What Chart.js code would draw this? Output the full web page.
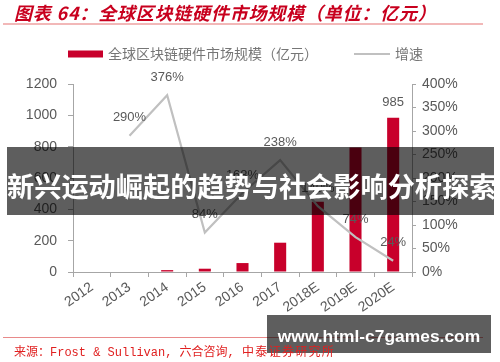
<!DOCTYPE html>
<html><head><meta charset="utf-8">
<script src="https://cdn.jsdelivr.net/npm/chart.js@4.4.1/dist/chart.umd.min.js"></script>
<style>
html,body{margin:0;padding:0;background:#fff;}
#wrap{position:relative;width:500px;height:362px;overflow:hidden;background:#fff;}
#c{position:absolute;left:0;top:0;}
.t{position:absolute;white-space:nowrap;}
#title{left:14px;top:0px;font:italic bold 18px "Noto Sans CJK SC",sans-serif;letter-spacing:0.8px;color:#c8001e;line-height:25px;}
#tline{left:3px;top:23px;width:480px;height:2px;background:#f2b8b8;}
#bline{left:3px;top:337px;width:480px;height:1px;background:#e88a8a;}
#src{left:14px;top:345px;font:12px "Liberation Mono","Noto Sans CJK SC",monospace;color:#e02020;line-height:16px;z-index:3;}
#src .w{letter-spacing:1.3px;}
#banner{left:7px;top:147px;width:487px;height:68px;background:rgba(0,0,0,0.63);color:#fff;font:bold 27.2px "Noto Sans CJK SC",sans-serif;text-align:center;line-height:76px;overflow:hidden;}
#wm{left:267px;top:315px;width:224px;height:38px;background:rgba(0,0,0,0.63);color:#fff;font:bold 17.4px "Liberation Sans",Arial,sans-serif;text-align:center;line-height:42px;z-index:2;}
</style></head><body>
<div id="wrap">
<canvas id="c" width="500" height="362" style="width:500px;height:362px"></canvas>
<div class="t" id="title">图表 64：全球区块链硬件市场规模（单位：亿元）</div>
<div class="t" id="tline"></div>
<div class="t" id="bline"></div>
<div class="t" id="banner">新兴运动崛起的趋势与社会影响分析探索</div>
<div class="t" id="wm">www.html-c7games.com</div>
<div class="t" id="src">来源：Frost &amp; Sullivan, 六合咨询,  <span class="w">中泰证券研究所</span></div>
</div>
<script>
const categories = ['2012','2013','2014','2015','2016','2017','2018E','2019E','2020E'];
const marketSize = [0, 0, 12, 21, 57, 187, 449, 794, 985];
const growthRate = [null, 290, 376, 84, 168, 238, 140, 74, 24];
const leftTicks = [0, 200, 400, 600, 800, 1000, 1200];
const rightTicks = [0, 50, 100, 150, 200, 250, 300, 350, 400];
const barLabelIndex = [8];

const AXIS = '#a6a6a6';
const TXT = '#595959';
const RED = '#c8002b';
const GRAY = '#c0c0c0';

const labelPlugin = {
  id: 'labels',
  afterDatasetsDraw(chart) {
    const ctx = chart.ctx;
    ctx.save();
    ctx.fillStyle = TXT;
    ctx.font = '13px "Liberation Sans", Arial, sans-serif';
    ctx.textAlign = 'center';
    ctx.textBaseline = 'middle';
    const lineMeta = chart.getDatasetMeta(0);
    lineMeta.data.forEach((p, i) => {
      if (growthRate[i] == null) return;
      ctx.fillText(growthRate[i] + '%', p.x, p.y - 18);
    });
    const barMeta = chart.getDatasetMeta(1);
    barLabelIndex.forEach(i => {
      const b = barMeta.data[i];
      ctx.fillText(String(marketSize[i]), b.x, b.y - 15);
    });
    ctx.restore();
  },
  afterDraw(chart) {
    const ctx = chart.ctx;
    ctx.save();
    const y = 54;
    ctx.font = '14px "Noto Sans CJK SC", sans-serif';
    ctx.textBaseline = 'middle';
    ctx.textAlign = 'left';
    const ds = chart.data.datasets;
    ctx.fillStyle = ds[1].backgroundColor;
    ctx.fillRect(68, y - 3.5, 35, 7);
    ctx.fillStyle = '#767676';
    ctx.fillText(ds[1].label, 108, y);
    ctx.strokeStyle = ds[0].borderColor;
    ctx.lineWidth = 2;
    ctx.beginPath();
    ctx.moveTo(354, y);
    ctx.lineTo(390, y);
    ctx.stroke();
    ctx.fillText(ds[0].label, 395, y);
    ctx.restore();
  }
};

new Chart(document.getElementById('c'), {
  data: {
    labels: categories,
    datasets: [
      { type: 'line', label: '增速', data: growthRate, yAxisID: 'y2', borderColor: GRAY, backgroundColor: GRAY,
        borderWidth: 2.2, pointRadius: 0, tension: 0, order: 0, spanGaps: false },
      { type: 'bar', label: '全球区块链硬件市场规模（亿元）', data: marketSize, yAxisID: 'y', backgroundColor: RED,
        barPercentage: 0.32, categoryPercentage: 1, order: 1 }
    ]
  },
  options: {
    responsive: false,
    animation: false,
    devicePixelRatio: 1,
    layout: { padding: { top: 84, left: 0, right: 0, bottom: 0 } },
    plugins: { legend: { display: false }, tooltip: { enabled: false }, title: { display: false } },
    scales: {
      x: {
        offset: true,
        grid: { display: true, drawOnChartArea: false, drawTicks: true, tickLength: 5, color: AXIS, offset: true },
        border: { display: true, color: AXIS, width: 1 },
        ticks: { color: TXT, font: { size: 14, family: '"Liberation Sans", Arial, sans-serif' },
                 minRotation: 35, maxRotation: 35, padding: 2, autoSkip: false },
        afterFit(s) { s.height = 90; }
      },
      y: {
        position: 'left', min: 0, max: 1200,
        grid: { display: true, drawOnChartArea: false, drawTicks: true, tickLength: 5, color: AXIS },
        border: { display: true, color: AXIS, width: 1 },
        ticks: { color: TXT, font: { size: 14, family: '"Liberation Sans", Arial, sans-serif' }, padding: 11,
                 stepSize: 200, callback: v => leftTicks.includes(v) ? String(v) : null },
        afterFit(s) { s.width = 73; }
      },
      y2: {
        position: 'right', min: 0, max: 400,
        grid: { display: true, drawOnChartArea: false, drawTicks: true, tickLength: 4, color: AXIS },
        border: { display: true, color: AXIS, width: 1 },
        ticks: { color: TXT, font: { size: 14, family: '"Liberation Sans", Arial, sans-serif' }, padding: 6,
                 stepSize: 50, callback: v => rightTicks.includes(v) ? v + '%' : null },
        afterFit(s) { s.width = 88; }
      }
    }
  },
  plugins: [labelPlugin]
});
</script>
</body></html>
